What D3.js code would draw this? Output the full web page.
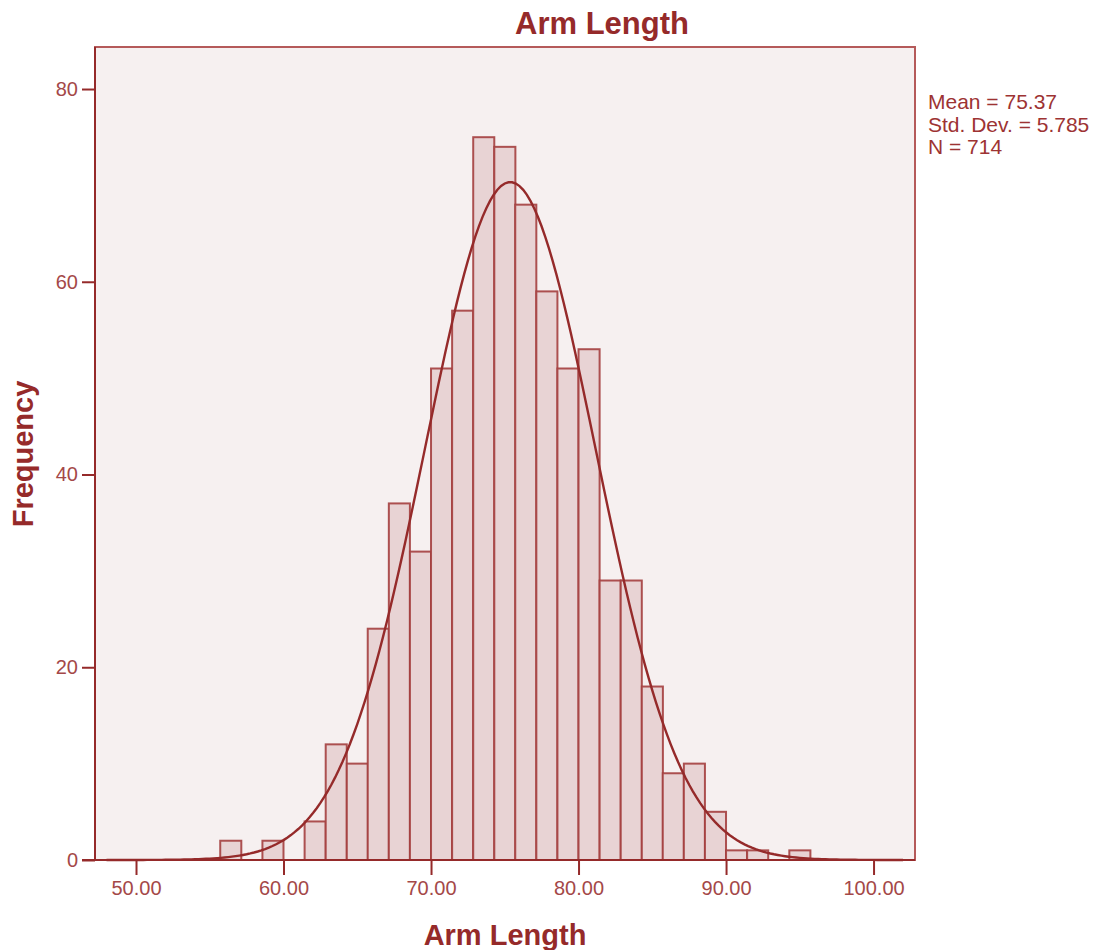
<!DOCTYPE html>
<html>
<head>
<meta charset="utf-8">
<script src="https://cdn.jsdelivr.net/npm/d3@7"></script>
<style>
  body { margin: 0; background: #fff; }
  text { font-family: "Liberation Sans", Arial, sans-serif; }
</style>
</head>
<body>
<div id="content"></div>
<script>
// Histogram data (lower edge of each bin, frequency).
var binStarts = [55.71, 57.14, 58.57, 60.00, 61.43, 62.86, 64.29, 65.71, 67.14, 68.57,
                 70.00, 71.43, 72.86, 74.29, 75.71, 77.14, 78.57, 80.00, 81.43, 82.86,
                 84.29, 85.71, 87.14, 88.57, 90.00, 91.43, 92.86, 94.29];
var counts = [2, 0, 2, 0, 4, 12, 10, 24, 37, 32,
              51, 57, 75, 74, 68, 59, 51, 53, 29, 29,
              18, 9, 10, 5, 1, 1, 0, 1];
var binWidth = 1.4286;

// Summary statistics.
var mean = 75.37;
var stdDev = 5.785;
var nObs = 714;
var statLines = ['Mean = 75.37', 'Std. Dev. = 5.785', 'N = 714'];

// Ticks.
var xTicks = [50, 60, 70, 80, 90, 100];
var yTicks = [0, 20, 40, 60, 80];

// Colours.
var dark = '#952a2a';
var tickCol = '#a44848';

var width = 1099, height = 950;
var plot = {left : 95, right : 915, top : 47, bottom : 860};

var svg = d3.select('#content')
              .append('svg')
              .attr('width', width)
              .attr('height', height);

var x = d3.scaleLinear().domain([47.22, 102.81]).range([plot.left, plot.right]);
var y = d3.scaleLinear().domain([0, 84.36]).range([plot.bottom, plot.top]);

// Plot background.
svg.append('rect')
    .attr('x', plot.left).attr('y', plot.top)
    .attr('width', plot.right - plot.left)
    .attr('height', plot.bottom - plot.top)
    .attr('fill', '#f6f0f0');

// Bars.
var bins = binStarts.map(function(b, i) { return {x0 : b, n : counts[i]}; })
                    .filter(function(d) { return d.n > 0; });

svg.append('g').selectAll('rect')
    .data(bins)
    .enter().append('rect')
    .attr('x', function(d) { return x(d.x0); })
    .attr('y', function(d) { return y(d.n); })
    .attr('width', function(d) { return x(d.x0 + binWidth) - x(d.x0); })
    .attr('height', function(d) { return y(0) - y(d.n); })
    .attr('fill', '#e8d3d4')
    .attr('stroke', '#a43f3f')
    .attr('stroke-opacity', 0.9)
    .attr('stroke-width', 2);

// Fitted normal curve.
function normalCount(v) {
  var z = (v - mean) / stdDev;
  return nObs * binWidth * Math.exp(-0.5 * z * z) / (stdDev * Math.sqrt(2 * Math.PI));
}
var curveXs = d3.range(48, 102.01, 0.25);

svg.append('path')
    .datum(curveXs)
    .attr('fill', 'none')
    .attr('stroke', dark)
    .attr('stroke-width', 2.4)
    .attr('d', d3.line()
                   .x(function(d) { return x(d); })
                   .y(function(d) { return y(normalCount(d)); }));

// Plot frame.
svg.append('rect')
    .attr('x', plot.left).attr('y', plot.top)
    .attr('width', plot.right - plot.left)
    .attr('height', plot.bottom - plot.top)
    .attr('fill', 'none')
    .attr('stroke', '#b55a5a')
    .attr('stroke-width', 2);

// Y axis.
var yAxis = svg.append('g')
    .attr('transform', 'translate(' + plot.left + ',0)')
    .call(d3.axisLeft(y).tickValues(yTicks).tickSize(13).tickPadding(4)
              .tickFormat(d3.format('d')));

// X axis.
var xAxis = svg.append('g')
    .attr('transform', 'translate(0,' + plot.bottom + ')')
    .call(d3.axisBottom(x).tickValues(xTicks).tickSize(15).tickPadding(6)
              .tickFormat(d3.format('.2f')));

[yAxis, xAxis].forEach(function(a) {
  a.select('.domain').attr('stroke', dark).attr('stroke-width', 2);
  a.selectAll('.tick line').attr('stroke', dark).attr('stroke-width', 2);
  a.selectAll('.tick text')
      .attr('fill', tickCol)
      .style('font-size', '20px')
      .style('font-family', '"Liberation Sans", Arial, sans-serif');
});
yAxis.select('.domain').attr('d', 'M0,' + plot.top + 'V' + plot.bottom);
xAxis.select('.domain').attr('d', 'M' + (plot.left - 13) + ',0H' + plot.right);

// Title.
svg.append('text')
    .attr('x', 602).attr('y', 34)
    .attr('text-anchor', 'middle')
    .attr('fill', dark)
    .style('font-size', '31px')
    .style('font-weight', 'bold')
    .text('Arm Length');

// Axis titles.
svg.append('text')
    .attr('x', 505).attr('y', 945)
    .attr('text-anchor', 'middle')
    .attr('fill', dark)
    .style('font-size', '29px')
    .style('font-weight', 'bold')
    .text('Arm Length');

svg.append('text')
    .attr('transform', 'translate(33,454) rotate(-90)')
    .attr('text-anchor', 'middle')
    .attr('fill', dark)
    .style('font-size', '29px')
    .style('font-weight', 'bold')
    .text('Frequency');

// Statistics legend.
svg.append('g').selectAll('text')
    .data(statLines)
    .enter().append('text')
    .attr('x', 928)
    .attr('y', function(d, i) { return 109 + i * 22.5; })
    .attr('fill', '#9d3333')
    .style('font-size', '21px')
    .text(function(d) { return d; });
</script>
</body>
</html>
